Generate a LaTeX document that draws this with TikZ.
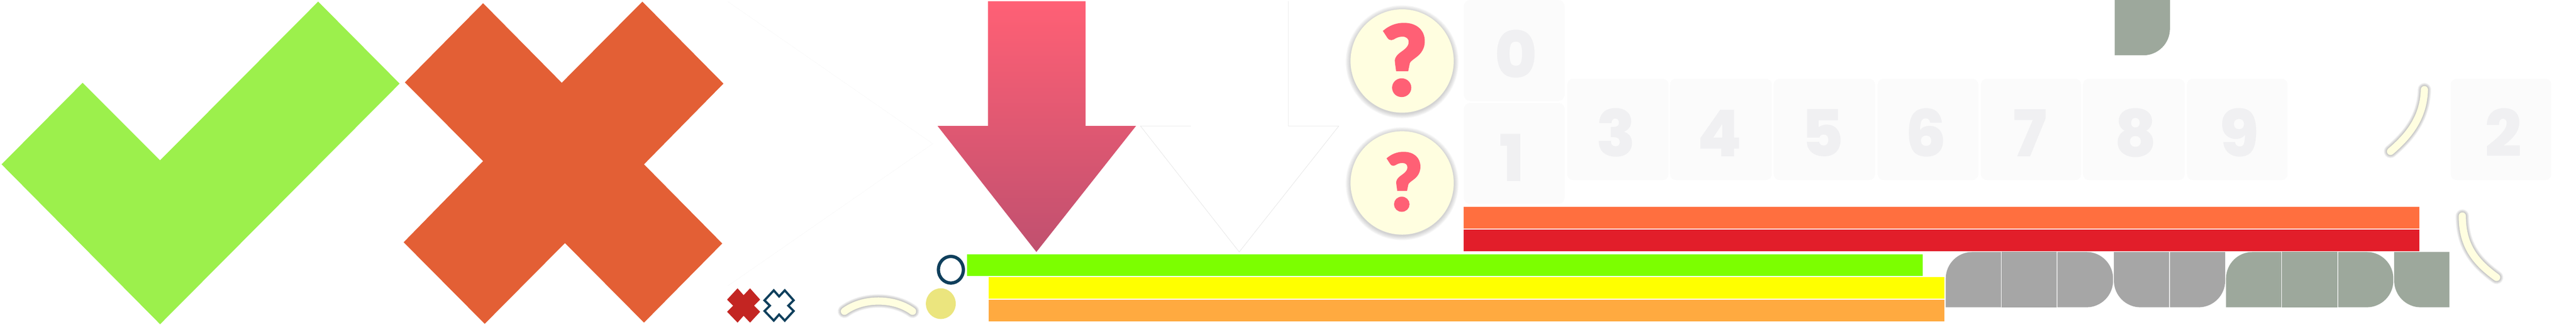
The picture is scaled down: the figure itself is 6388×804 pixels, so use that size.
\documentclass[tikz,border=0pt]{standalone}
\usepackage{fontspec}
\setmainfont{Poppins}[BoldFont={Poppins ExtraBold}]
\newfontfamily\quizfont{Lato Black}[FakeBold=2.2]
\usetikzlibrary{calc}

\definecolor{TickGreen}{HTML}{9CF04C}
\definecolor{CrossOrange}{HTML}{E35F35}
\definecolor{CrossRed}{HTML}{C32522}
\definecolor{DeepBlue}{HTML}{0F3F5C}
\definecolor{PaleCream}{HTML}{FFFEE0}
\definecolor{DullYellow}{HTML}{EBE57E}
\definecolor{QuizPink}{HTML}{FF6075}
\definecolor{ArrowLow}{HTML}{C0506F}
\definecolor{BarGreen}{HTML}{7CFF00}
\definecolor{BarYellow}{HTML}{FFFF00}
\definecolor{BarOrange}{HTML}{FFAA40}
\definecolor{BarCoral}{HTML}{FF6F3F}
\definecolor{BarRed}{HTML}{E21E2A}
\definecolor{TileGrey}{HTML}{A6A6A6}
\definecolor{TileSage}{HTML}{9DA89C}
\definecolor{NumTile}{HTML}{FBFBFB}
\definecolor{NumInk}{HTML}{F0F0F2}

\tikzset{
  softedge/.style={black, opacity=.03},
  numtile/.style={fill=NumTile, rounded corners=15pt},
  numlabel/.style={anchor=base, inner sep=0pt, text=NumInk, font=\fontsize{160}{160}\selectfont\bfseries},
  quizlabel/.style={anchor=base, inner sep=0pt, text=QuizPink},
}

% small cross, about its own centre
\newcommand{\crossoutline}{(-15,-43) -- (0,-26) -- (16,-43) -- (41,-15) -- (26,0) -- (41,15)
  -- (16,42) -- (0,25) -- (-15,42) -- (-41,15) -- (-26,0) -- (-41,-15) -- cycle}

\begin{document}
\begin{tikzpicture}[x=1pt, y=-1pt]

\useasboundingbox (0,0) rectangle (6388,804);

% tick and big cross
\fill [TickGreen] (4,407) -- (205,205) -- (397,397) -- (789,4) -- (991,207) -- (397,803) -- cycle;
\fill [CrossOrange] (1198,8) -- (1393,205) -- (1593,4) -- (1794,207) -- (1597,407) -- (1791,603)
      -- (1597,799) -- (1401,602) -- (1202,802) -- (1001,600) -- (1198,399) -- (1004,204) -- cycle;

% the near white triangle behind
\draw [white!96!black, line width=.5pt] (1805,4) -- (2313,356) -- (1805,708);

% small crosses
\fill [CrossRed, shift={(1844,757)}] \crossoutline;
\draw [DeepBlue, line width=5.5pt, shift={(1932,757)}, scale=.88] \crossoutline;

% bent strokes
\coordinate (StrokeA) at (2094,771);
\coordinate (StrokeB) at (2263,771);
\coordinate (StrokeC) at (6012,222);
\coordinate (StrokeD) at (5928,375);
\coordinate (StrokeE) at (6106,535);
\coordinate (StrokeF) at (6191,687);

\foreach \w in {34,32,30,28,26,24,22,20} {
  \draw [softedge, line width=\w pt, line cap=round] (StrokeA) .. controls (2140,737) and (2217,737) .. (StrokeB);
  \draw [softedge, line width=\w pt, line cap=round] (StrokeC) .. controls (6010,290) and (5975,335) .. (StrokeD);
  \draw [softedge, line width=\w pt, line cap=round] (StrokeE) .. controls (6106,610) and (6140,650) .. (StrokeF);
}
\draw [PaleCream, line width=18pt, line cap=round] (StrokeA) .. controls (2140,737) and (2217,737) .. (StrokeB);
\draw [PaleCream, line width=18pt, line cap=round] (StrokeC) .. controls (6010,290) and (5975,335) .. (StrokeD);
\draw [PaleCream, line width=18pt, line cap=round] (StrokeE) .. controls (6106,610) and (6140,650) .. (StrokeF);

% ring and dot
\draw [DeepBlue, line width=8pt] (2358,668) ellipse [x radius=31, y radius=33];
\fill [DullYellow] (2333,752) ellipse [x radius=37, y radius=38];

% arrows
\shade [top color=QuizPink, bottom color=ArrowLow] (2450,3) -- (2692,3) -- (2692,312) -- (2817,312)
       -- (2570,624) -- (2325,312) -- (2450,312) -- cycle;
\draw [black!10, line width=1pt] (3195,3) -- (3195,312) -- (3320,312) -- (3073,624) -- (2828,312) -- (2953,312);

% question marks
\foreach \cy in {151,453} {
  \foreach \r in {12,10,8,6,4,2} {
    \fill [softedge] (3477,\cy+2) ellipse [x radius=128+\r, y radius=128+\r];
  }
  \fill [PaleCream] (3477,\cy) ellipse [x radius=128, y radius=128];
}
\node [quizlabel, font=\fontsize{240}{240}\selectfont\quizfont] (quizA) at (3482,236) {?};
\node [quizlabel, font=\fontsize{194}{194}\selectfont\quizfont] (quizB) at (3481,521) {?};

% number tiles
\fill [numtile] (3630,0) rectangle (3880,250);
\fill [numtile] (3630,255) rectangle (3880,505);
\node [numlabel] (num0) at (3760,194) {0};
\node [numlabel] (num1) at (3750,449) {1};
\foreach \n/\xa/\xb/\cx in {3/3886/4138/4007, 4/4141/4394/4264, 5/4398/4650/4520, 6/4656/4906/4776,
                            7/4912/5161/5034, 8/5165/5418/5296, 9/5423/5673/5553, 2/6077/6327/6208} {
  \fill [numtile] (\xa,195) rectangle (\xb,446);
  \node [numlabel] (num\n) at (\cx,388) {\n};
}

% bars
\fill [BarGreen] (2398,630) rectangle (4768,684);
\fill [BarYellow] (2452,686) rectangle (4821,740);
\fill [BarOrange] (2452,742) rectangle (4821,796);
\fill [BarCoral] (3630,512) rectangle (6000,566);
\fill [BarRed] (3630,568) rectangle (6000,622);

% rounded tiles
\fill [TileSage] (5244,0) -- (5381,0) [rounded corners=66pt] -- (5381,137) [sharp corners] -- (5244,137) -- cycle;

\fill [TileGrey] (4825,761) [rounded corners=66pt] -- (4825,624) [sharp corners] -- (4962,624) -- (4962,761) -- cycle;
\fill [TileGrey] (4964,624) rectangle (5100,761);
\fill [TileGrey] (5102,624) [rounded corners=66pt] -- (5240,624) -- (5240,761) [sharp corners] -- (5102,761) -- cycle;
\fill [TileGrey] (5379,624) [sharp corners] -- (5242,624) [rounded corners=66pt] -- (5242,761) [sharp corners] -- (5379,761) -- cycle;
\fill [TileGrey] (5381,624) -- (5518,624) [rounded corners=66pt] -- (5518,761) [sharp corners] -- (5381,761) -- cycle;

\fill [TileSage] (5520,761) [rounded corners=66pt] -- (5520,624) [sharp corners] -- (5657,624) -- (5657,761) -- cycle;
\fill [TileSage] (5659,624) rectangle (5796,761);
\fill [TileSage] (5798,624) [rounded corners=66pt] -- (5935,624) -- (5935,761) [sharp corners] -- (5798,761) -- cycle;
\fill [TileSage] (6074,624) [sharp corners] -- (5937,624) [rounded corners=66pt] -- (5937,761) [sharp corners] -- (6074,761) -- cycle;

\end{tikzpicture}
\end{document}
